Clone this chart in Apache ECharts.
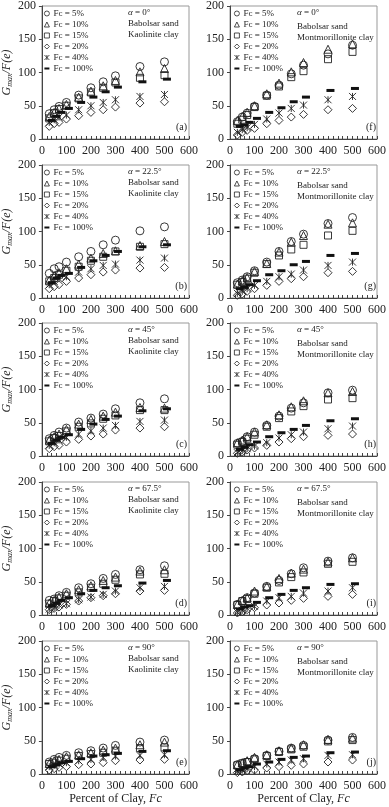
<!DOCTYPE html>
<html><head><meta charset="utf-8">
<script src="https://cdn.jsdelivr.net/npm/echarts@6/dist/echarts.min.js"></script>
<style>html,body{margin:0;padding:0;background:#fff}#c{width:389px;height:807px}</style>
</head><body><div id="c"></div>
<script>
// x values (kPa) – Fc=100% points are plotted slightly offset to the right in the figure
const pressures = [30, 50, 70, 100, 150, 200, 250, 300, 400, 500];
const pressuresFc100 = [40, 60, 80, 110, 160, 210, 260, 310, 410, 510];
const seriesNames = ['Fc = 5%', 'Fc = 10%', 'Fc = 15%', 'Fc = 20%', 'Fc = 40%', 'Fc = 100%'];
const xTicks = [0, 100, 200, 300, 400, 500, 600];
const yTicks = [0, 50, 100, 150, 200];
const alphaLabels = ['0°', '22.5°', '45°', '67.5°', '90°'];
const panelLetters = ['(a)', '(b)', '(c)', '(d)', '(e)', '(f)', '(g)', '(h)', '(i)', '(j)'];

// (a) Kaolinite, alpha = 0
const a5 = [38, 44, 49, 55, 66, 77, 86, 95, 109, 116];
const a10 = [34, 40, 46, 52, 63, 72, 80, 88, 101, 106];
const a15 = [31, 39, 45, 50, 61, 70, 77, 85, 92, 96];
const a20 = [19, 23, 25, 30, 35, 40, 44, 48, 54, 56];
const a40 = [25, 29, 33, 36, 44, 50, 55, 59, 64, 67];
const a100 = [28, 34, 40, 46, 55, 63, 71, 78, 86, 90];
// (b) Kaolinite, alpha = 22.5
const b5 = [37, 44, 47, 54, 62, 70, 80, 87, 101, 107];
const b10 = [27, 34, 38, 44, 51, 60, 67, 71, 79, 85];
const b15 = [25, 30, 35, 41, 47, 56, 62, 70, 77, 81];
const b20 = [14, 17, 20, 25, 30, 35, 39, 42, 45, 46];
const b40 = [20, 25, 29, 32, 39, 44, 49, 51, 57, 60];
const b100 = [23, 30, 34, 37, 46, 56, 64, 70, 77, 80];
// (c) Kaolinite, alpha = 45
const c5 = [26, 31, 36, 42, 51, 57, 63, 71, 80, 86];
const c10 = [24, 29, 33, 40, 48, 55, 60, 66, 73, 72];
const c15 = [22, 27, 30, 37, 44, 49, 56, 61, 69, 69];
const c20 = [11, 14, 16, 21, 25, 30, 33, 39, 42, 44];
const c40 = [16, 20, 24, 28, 33, 38, 42, 46, 52, 54];
const c100 = [19, 24, 28, 32, 40, 48, 55, 60, 68, 71];
// (d) Kaolinite, alpha = 67.5
const d5 = [22, 24, 29, 34, 41, 47, 55, 61, 68, 74];
const d10 = [18, 22, 27, 32, 38, 44, 52, 57, 66, 68];
const d15 = [17, 21, 25, 29, 34, 41, 47, 53, 61, 62];
const d20 = [8, 10, 12, 16, 21, 26, 29, 32, 36, 37];
const d40 = [9, 11, 15, 17, 23, 27, 31, 36, 41, 43];
const d100 = [14, 18, 22, 26, 32, 37, 41, 44, 48, 52];
// (e) Kaolinite, alpha = 90
const e5 = [18, 22, 25, 28, 32, 35, 39, 43, 48, 51];
const e10 = [16, 20, 22, 26, 29, 32, 36, 39, 44, 48];
const e15 = [15, 17, 20, 23, 27, 30, 32, 35, 39, 40];
const e20 = [6, 8, 10, 11, 14, 15, 17, 20, 21, 22];
const e40 = [11, 13, 15, 17, 20, 22, 25, 27, 28, 29];
const e100 = [11, 14, 17, 19, 23, 27, 29, 31, 34, 35];
// (f) Montmorillonite, alpha = 0
const f5 = [26, 33, 39, 49, 66, 81, 98, 111, 128, 141];
const f10 = [28, 34, 40, 50, 68, 84, 101, 115, 135, 143];
const f15 = [23, 29, 36, 48, 65, 79, 93, 102, 120, 131];
const f20 = [6, 10, 13, 16, 23, 28, 33, 37, 44, 46];
const f40 = [10, 14, 17, 22, 30, 39, 46, 51, 59, 64];
const f100 = [19, 21, 25, 31, 40, 47, 56, 63, 73, 76];
// (g) Montmorillonite, alpha = 22.5
const g5 = [23, 27, 32, 41, 54, 70, 85, 96, 112, 121];
const g10 = [21, 26, 31, 40, 52, 69, 84, 94, 111, 113];
const g15 = [20, 24, 29, 38, 51, 64, 73, 80, 94, 101];
const g20 = [4, 6, 10, 14, 19, 25, 29, 32, 38, 40];
const g40 = [7, 10, 14, 19, 25, 32, 36, 42, 49, 54];
const g100 = [14, 16, 20, 26, 35, 41, 50, 55, 64, 67];
// (h) Montmorillonite, alpha = 45
const h5 = [19, 22, 29, 36, 46, 60, 72, 80, 95, 99];
const h10 = [20, 24, 29, 36, 47, 62, 74, 83, 95, 97];
const h15 = [17, 21, 26, 32, 44, 57, 67, 75, 85, 87];
const h20 = [4, 6, 9, 12, 16, 21, 26, 29, 31, 33];
const h40 = [5, 8, 11, 15, 20, 27, 32, 36, 41, 45];
const h100 = [10, 13, 17, 21, 29, 35, 40, 46, 53, 56];
// (i) Montmorillonite, alpha = 67.5
const i5 = [16, 21, 26, 33, 43, 52, 62, 71, 81, 86];
const i10 = [16, 22, 26, 36, 43, 55, 63, 69, 80, 86];
const i15 = [15, 21, 24, 32, 41, 49, 57, 64, 77, 80];
const i20 = [3, 5, 8, 11, 15, 18, 22, 25, 28, 31];
const i40 = [4, 7, 10, 13, 21, 26, 28, 33, 36, 41];
const i100 = [9, 12, 14, 19, 26, 31, 37, 41, 46, 47];
// (j) Montmorillonite, alpha = 90
const j5 = [14, 16, 18, 23, 28, 34, 39, 43, 51, 55];
const j10 = [14, 17, 20, 25, 29, 35, 39, 44, 52, 54];
const j15 = [13, 16, 18, 22, 27, 33, 37, 41, 49, 51];
const j20 = [2, 3, 5, 6, 9, 11, 13, 15, 18, 21];
const j40 = [4, 6, 8, 11, 15, 18, 21, 23, 28, 29];
const j100 = [6, 9, 11, 15, 18, 22, 25, 27, 32, 33];

const panelData = [
  [a5, a10, a15, a20, a40, a100], [b5, b10, b15, b20, b40, b100],
  [c5, c10, c15, c20, c40, c100], [d5, d10, d15, d20, d40, d100],
  [e5, e10, e15, e20, e40, e100], [f5, f10, f15, f20, f40, f100],
  [g5, g10, g15, g20, g40, g100], [h5, h10, h15, h20, h40, h100],
  [i5, i10, i15, i20, i40, i100], [j5, j10, j15, j20, j40, j100]
];

const FONT = '"Liberation Serif", "DejaVu Serif", serif';
const INK = '#222';
const CLEAR = 'rgba(0,0,0,0)';
const STAR = 'path://M0,0L10,10M10,0L0,10M5,0L5,10';
const DASH = 'path://M0,0L10,0L10,4L0,4Z';
const symbolDefs = [
  { symbol: 'circle', size: 8, fill: CLEAR },
  { symbol: 'triangle', size: 8, fill: CLEAR },
  { symbol: 'rect', size: 7, fill: CLEAR },
  { symbol: 'diamond', size: 8, fill: CLEAR },
  { symbol: STAR, size: 7, fill: CLEAR },
  { symbol: 'rect', size: [8, 3], fill: '#111', legendIcon: DASH }
];

const tops = [6, 165, 323, 482, 641];
const H = 133;
const grids = [], xAxis = [], yAxis = [], series = [], legend = [], graphic = [];

panelData.forEach((arrs, p) => {
  const col = p < 5 ? 0 : 1, row = p % 5;
  const left = col ? 230 : 39, width = col ? 148 : 150, top = tops[row];
  grids.push({ left, width, top, height: H, show: true, borderColor: '#999', borderWidth: 1, backgroundColor: '#fff' });
  const xa = {
    gridIndex: p, type: 'value', min: xTicks[0], max: xTicks[xTicks.length - 1], interval: 100,
    axisLine: { onZero: false, lineStyle: { color: '#444', width: 1 } },
    axisTick: { inside: true, length: 3, lineStyle: { color: '#444' } },
    minorTick: { show: true, splitNumber: 5, length: 3, lineStyle: { color: '#444' } },
    splitLine: { show: false },
    axisLabel: { fontFamily: FONT, fontSize: 12, color: INK, margin: 6 }
  };
  if (row === 4) {
    xa.name = 'Percent of Clay, {i|Fc}';
    xa.nameLocation = 'middle';
    xa.nameGap = 16;
    xa.nameTextStyle = { fontFamily: FONT, fontSize: 12, color: INK, rich: { i: { fontFamily: FONT, fontSize: 12, fontStyle: 'italic', color: INK } } };
  }
  xAxis.push(xa);
  const ya = {
    gridIndex: p, type: 'value', min: yTicks[0], max: yTicks[yTicks.length - 1], interval: 50,
    axisLine: { show: true, lineStyle: { color: '#444', width: 1 } },
    axisTick: { show: true, length: 3, lineStyle: { color: '#444' } },
    splitLine: { show: false },
    axisLabel: { fontFamily: FONT, fontSize: 12, color: INK, margin: 6 }
  };
  if (col === 0) {
    ya.name = '{i|G}{s|max}{i|/F(e)}';
    ya.nameLocation = 'middle';
    ya.nameGap = 25;
    ya.nameTextStyle = {
      color: INK,
      rich: {
        i: { fontFamily: FONT, fontSize: 12, fontStyle: 'italic', color: INK, lineHeight: 14 },
        s: { fontFamily: FONT, fontSize: 8, fontStyle: 'italic', color: INK, lineHeight: 14, verticalAlign: 'bottom', padding: [5, 0, 0, 0] }
      }
    };
  }
  yAxis.push(ya);

  arrs.forEach((vals, s) => {
    const def = symbolDefs[s];
    const xs = s === 5 ? pressuresFc100 : pressures;
    series.push({
      type: 'scatter', name: seriesNames[s], xAxisIndex: p, yAxisIndex: p,
      symbol: def.symbol, symbolSize: def.size,
      itemStyle: { color: def.fill, borderColor: '#222', borderWidth: s === 5 ? 0 : 0.9, opacity: 1 },
      emphasis: { disabled: true },
      z: 3,
      data: xs.map((x, k) => [x, vals[k]])
    });
  });

  legend.push({
    left: col ? 234 : 44, top: top + 2, orient: 'vertical', selectedMode: false,
    itemWidth: 5, itemHeight: 5, itemGap: 0, padding: 0,
    textStyle: { fontFamily: FONT, fontSize: 9, color: INK, lineHeight: 11, padding: [0, 0, 0, -1] },
    data: seriesNames.map((n, s) => {
      const def = symbolDefs[s];
      const o = { name: n };
      if (def.legendIcon) o.icon = def.legendIcon;
      else if (def.symbol === STAR) o.icon = STAR;
      else o.icon = def.symbol;
      o.itemStyle = s === 5
        ? { color: '#111', borderWidth: 0 }
        : { color: CLEAR, borderColor: '#222', borderWidth: 0.8 };
      return o;
    })
  });

  const tx = col ? 297 : 128;
  const dy = col ? [7, 21, 32] : [7, 18, 29];
  const clay = col ? 'Montmorillonite clay' : 'Kaolinite clay';
  const txt = (text, y) => ({
    type: 'text', x: tx, y: top + y,
    style: { text, fontFamily: FONT, fontSize: 9, fill: INK, textVerticalAlign: 'middle',
      rich: { i: { fontFamily: FONT, fontSize: 9, fontStyle: 'italic', fill: INK } } },
    z: 10
  });
  graphic.push(txt('{i|α} = ' + alphaLabels[row], dy[0]));
  graphic.push(txt('Babolsar sand', dy[1]));
  graphic.push(txt(clay, dy[2]));
  graphic.push({
    type: 'text', x: left + width - 2, y: top + H - 12,
    style: { text: panelLetters[p], fontFamily: FONT, fontSize: 10, fill: INK, textAlign: 'right', textVerticalAlign: 'middle' },
    z: 10
  });
});

const chart = echarts.init(document.getElementById('c'), null, { renderer: 'canvas' });
chart.setOption({
  animation: false,
  backgroundColor: '#fff',
  grid: grids, xAxis, yAxis, series, legend, graphic
});
</script>
</body></html>
